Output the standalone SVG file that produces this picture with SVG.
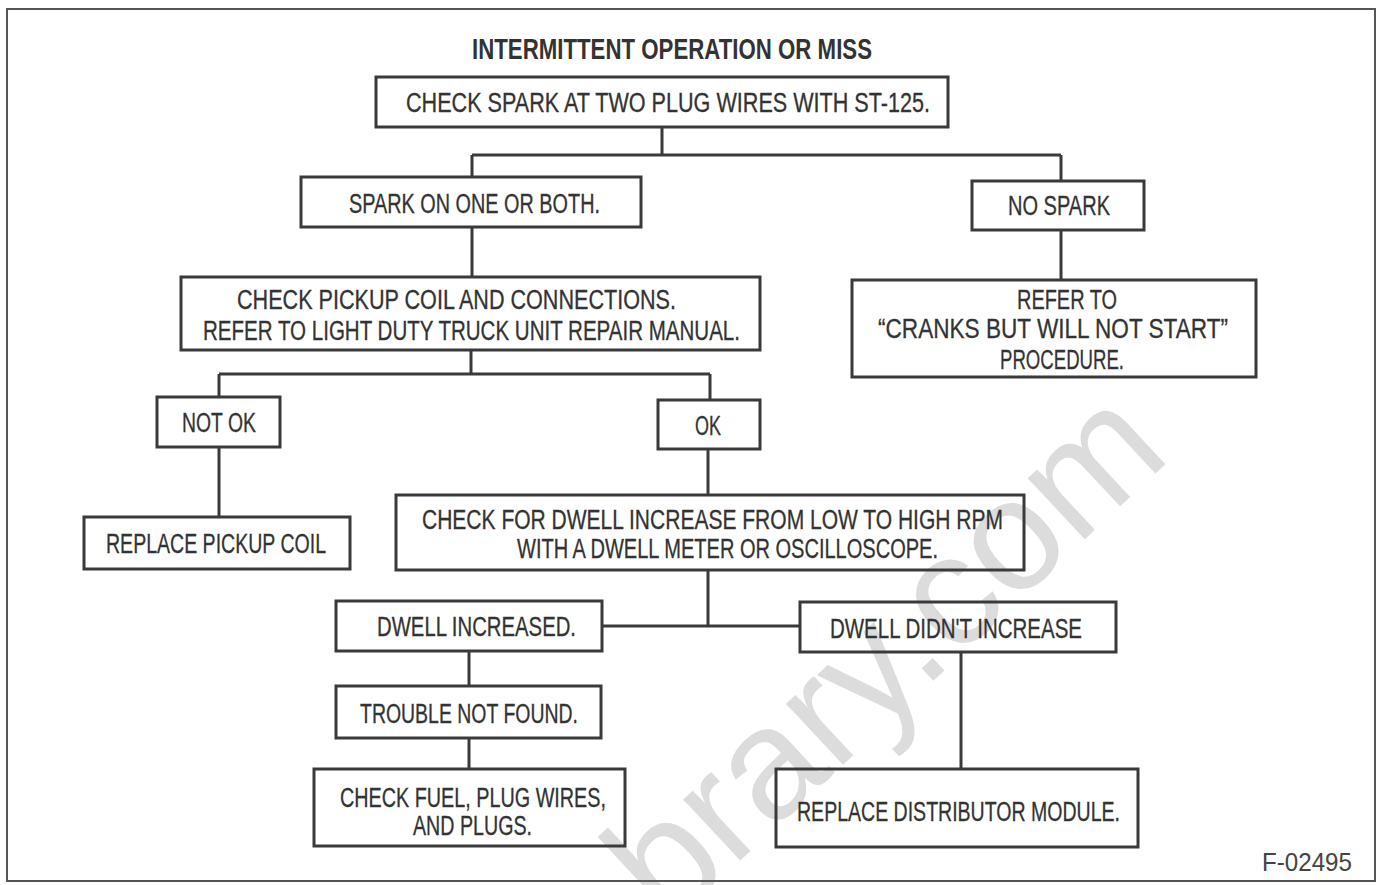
<svg xmlns="http://www.w3.org/2000/svg" width="1384" height="885" viewBox="0 0 1384 885">
<style>
.bx{fill:none;stroke:#3a3a3a;stroke-width:3}
.ln{fill:none;stroke:#3a3a3a;stroke-width:3}
.t{font-family:"Liberation Sans Narrow","Liberation Sans",Arial,sans-serif;font-size:27px;fill:#333;stroke:#333;stroke-width:0.3}
.ti{font-family:"Liberation Sans Narrow","Liberation Sans",Arial,sans-serif;font-size:29px;font-weight:bold;fill:#333}
.fig{font-family:"Liberation Sans",Arial,sans-serif;font-size:25px;fill:#444}
.wm{font-family:"Liberation Sans",Arial,sans-serif;font-size:158px;fill:#dcdcdc}
</style>
<rect x="0" y="0" width="1384" height="885" fill="#fff"/>
<text class="wm" x="0" y="0" transform="translate(668,928) rotate(-43)">brary.com</text>
<rect x="7" y="9" width="1368" height="872" fill="none" stroke="#555" stroke-width="2"/>
<text class="ti" x="472" y="59" textLength="400" lengthAdjust="spacingAndGlyphs">INTERMITTENT OPERATION OR MISS</text>

<g id="connectors">
<path class="ln" d="M662 127V155M472 155H1061M472 155V177M1061 155V181"/>
<path class="ln" d="M472 227V277"/>
<path class="ln" d="M1061 230V280"/>
<path class="ln" d="M471 350V374M219 374H710M219 374V397M710 374V400"/>
<path class="ln" d="M219 447V517"/>
<path class="ln" d="M708 449V495"/>
<path class="ln" d="M708 570V626M602 626H800"/>
<path class="ln" d="M469 651V686"/>
<path class="ln" d="M469 738V769"/>
<path class="ln" d="M961 652V769"/>
</g>

<g id="n-check-spark"><rect class="bx" x="376" y="77" width="572" height="50"/>
<text class="t" x="406" y="112" textLength="524" lengthAdjust="spacingAndGlyphs">CHECK SPARK AT TWO PLUG WIRES WITH ST-125.</text></g>

<g id="n-spark-one"><rect class="bx" x="301" y="177" width="340" height="50"/>
<text class="t" x="349" y="213" textLength="251" lengthAdjust="spacingAndGlyphs">SPARK ON ONE OR BOTH.</text></g>

<g id="n-no-spark"><rect class="bx" x="972" y="181" width="172" height="49"/>
<text class="t" x="1008" y="215" textLength="102" lengthAdjust="spacingAndGlyphs">NO SPARK</text></g>

<g id="n-pickup"><rect class="bx" x="181" y="277" width="579" height="73"/>
<text class="t" x="237" y="309" textLength="439" lengthAdjust="spacingAndGlyphs">CHECK PICKUP COIL AND CONNECTIONS.</text>
<text class="t" x="203" y="340" textLength="537" lengthAdjust="spacingAndGlyphs">REFER TO LIGHT DUTY TRUCK UNIT REPAIR MANUAL.</text></g>

<g id="n-refer"><rect class="bx" x="852" y="280" width="404" height="97"/>
<text class="t" x="1017" y="309" textLength="100" lengthAdjust="spacingAndGlyphs">REFER TO</text>
<text class="t" x="878" y="338" textLength="350" lengthAdjust="spacingAndGlyphs">“CRANKS BUT WILL NOT START”</text>
<text class="t" x="1000" y="369" textLength="124" lengthAdjust="spacingAndGlyphs">PROCEDURE.</text></g>

<g id="n-not-ok"><rect class="bx" x="157" y="397" width="123" height="50"/>
<text class="t" x="182" y="432" textLength="74" lengthAdjust="spacingAndGlyphs">NOT OK</text></g>

<g id="n-ok"><rect class="bx" x="658" y="400" width="102" height="49"/>
<text class="t" x="695" y="435" textLength="26" lengthAdjust="spacingAndGlyphs">OK</text></g>

<g id="n-replace-coil"><rect class="bx" x="84" y="517" width="266" height="52"/>
<text class="t" x="106" y="553" textLength="220" lengthAdjust="spacingAndGlyphs">REPLACE PICKUP COIL</text></g>

<g id="n-dwell-check"><rect class="bx" x="396" y="495" width="628" height="75"/>
<text class="t" x="422" y="529" textLength="581" lengthAdjust="spacingAndGlyphs">CHECK FOR DWELL INCREASE FROM LOW TO HIGH RPM</text>
<text class="t" x="517" y="558" textLength="421" lengthAdjust="spacingAndGlyphs">WITH A DWELL METER OR OSCILLOSCOPE.</text></g>

<g id="n-dwell-inc"><rect class="bx" x="336" y="601" width="266" height="50"/>
<text class="t" x="377" y="636" textLength="199" lengthAdjust="spacingAndGlyphs">DWELL INCREASED.</text></g>

<g id="n-dwell-not"><rect class="bx" x="800" y="602" width="316" height="50"/>
<text class="t" x="830" y="638" textLength="252" lengthAdjust="spacingAndGlyphs">DWELL DIDN'T INCREASE</text></g>

<g id="n-trouble"><rect class="bx" x="336" y="686" width="265" height="52"/>
<text class="t" x="360" y="723" textLength="218" lengthAdjust="spacingAndGlyphs">TROUBLE NOT FOUND.</text></g>

<g id="n-fuel"><rect class="bx" x="314" y="769" width="311" height="77"/>
<text class="t" x="340" y="807" textLength="266" lengthAdjust="spacingAndGlyphs">CHECK FUEL, PLUG WIRES,</text>
<text class="t" x="413" y="835" textLength="119" lengthAdjust="spacingAndGlyphs">AND PLUGS.</text></g>

<g id="n-module"><rect class="bx" x="776" y="769" width="362" height="78"/>
<text class="t" x="797" y="821" textLength="323" lengthAdjust="spacingAndGlyphs">REPLACE DISTRIBUTOR MODULE.</text></g>

<text class="fig" x="1262" y="871" textLength="90" lengthAdjust="spacingAndGlyphs">F-02495</text>
</svg>
